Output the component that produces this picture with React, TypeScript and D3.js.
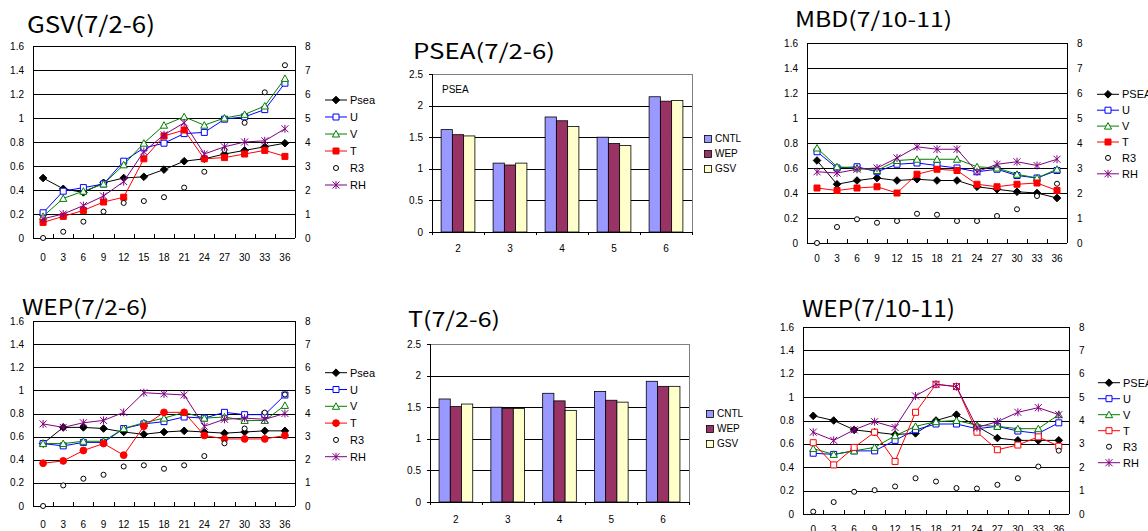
import React, { useEffect, useRef } from "react";
import * as d3 from "d3";

// forecast hours (x axis of the line panels)
const hours = ["0", "3", "6", "9", "12", "15", "18", "21", "24", "27", "30", "33", "36"];
const leftTicks = [0, 0.2, 0.4, 0.6, 0.8, 1, 1.2, 1.4, 1.6];
const rightTicks = [0, 1, 2, 3, 4, 5, 6, 7, 8];

// GSV(7/2-6)
const gsvPsea = [0.5, 0.41, 0.38, 0.46, 0.5, 0.51, 0.57, 0.64, 0.66, 0.7, 0.73, 0.76, 0.79];
const gsvU = [0.21, 0.39, 0.42, 0.45, 0.64, 0.75, 0.79, 0.87, 0.88, 0.99, 1.01, 1.07, 1.29];
const gsvV = [0.18, 0.33, 0.39, 0.45, 0.61, 0.79, 0.94, 1.01, 0.94, 1.0, 1.03, 1.1, 1.33];
const gsvT = [0.13, 0.18, 0.23, 0.3, 0.34, 0.66, 0.85, 0.9, 0.66, 0.67, 0.7, 0.73, 0.68];
const gsvR3 = [0, 0.26, 0.68, 1.1, 1.46, 1.54, 1.7, 2.1, 2.76, 3.67, 4.8, 6.07, 7.2];
const gsvRH = [0.16, 0.2, 0.27, 0.35, 0.47, 0.72, 0.86, 0.96, 0.7, 0.76, 0.8, 0.81, 0.91];

// WEP(7/2-6)
const wepPsea = [0.54, 0.68, 0.68, 0.67, 0.64, 0.62, 0.64, 0.65, 0.64, 0.63, 0.64, 0.65, 0.65];
const wepU = [0.54, 0.52, 0.55, 0.55, 0.67, 0.71, 0.73, 0.77, 0.76, 0.81, 0.79, 0.79, 0.96];
const wepV = [0.54, 0.54, 0.56, 0.56, 0.67, 0.72, 0.76, 0.81, 0.76, 0.77, 0.74, 0.74, 0.87];
const wepT = [0.37, 0.39, 0.48, 0.54, 0.44, 0.69, 0.81, 0.81, 0.61, 0.58, 0.58, 0.58, 0.61];
const wepR3 = [0, 0.89, 1.18, 1.35, 1.71, 1.76, 1.61, 1.76, 2.16, 2.71, 3.35, 4.04, 4.82];
const wepRH = [0.71, 0.68, 0.72, 0.74, 0.81, 0.98, 0.97, 0.96, 0.69, 0.75, 0.76, 0.75, 0.8];

// MBD(7/10-11)
const mbdPsea = [0.66, 0.47, 0.5, 0.52, 0.5, 0.51, 0.5, 0.5, 0.45, 0.43, 0.41, 0.4, 0.36];
const mbdU = [0.73, 0.6, 0.61, 0.57, 0.63, 0.64, 0.62, 0.6, 0.57, 0.59, 0.54, 0.52, 0.58];
const mbdV = [0.76, 0.61, 0.6, 0.58, 0.66, 0.67, 0.67, 0.67, 0.61, 0.6, 0.55, 0.52, 0.59];
const mbdT = [0.44, 0.42, 0.44, 0.45, 0.4, 0.55, 0.59, 0.58, 0.47, 0.45, 0.47, 0.48, 0.42];
const mbdR3 = [0, 0.64, 0.95, 0.81, 0.88, 1.17, 1.13, 0.88, 0.88, 1.08, 1.35, 1.88, 2.37];
const mbdRH = [0.57, 0.56, 0.59, 0.6, 0.68, 0.77, 0.75, 0.75, 0.57, 0.63, 0.65, 0.62, 0.67];

// WEP(7/10-11)
const wep2Psea = [0.84, 0.8, 0.72, 0.7, 0.68, 0.69, 0.8, 0.85, 0.75, 0.65, 0.63, 0.63, 0.63];
const wep2U = [0.52, 0.51, 0.54, 0.54, 0.63, 0.72, 0.77, 0.77, 0.73, 0.75, 0.71, 0.69, 0.78];
const wep2V = [0.56, 0.51, 0.54, 0.57, 0.67, 0.75, 0.79, 0.8, 0.76, 0.75, 0.73, 0.73, 0.85];
const wep2T = [0.61, 0.42, 0.57, 0.7, 0.45, 0.87, 1.11, 1.09, 0.7, 0.55, 0.59, 0.66, 0.58];
const wep2R3 = [0.1, 0.51, 0.95, 1.02, 1.18, 1.53, 1.39, 1.11, 1.09, 1.25, 1.53, 2.03, 2.71];
const wep2RH = [0.7, 0.63, 0.72, 0.79, 0.74, 1.01, 1.11, 1.09, 0.74, 0.79, 0.87, 0.91, 0.85];

// bar panels
const barDays = ["2", "3", "4", "5", "6"];
const barNames = ["CNTL", "WEP", "GSV"];
const barColors = ["#9999FF", "#993366", "#FFFFCC"];
const barTicks = [0, 0.5, 1, 1.5, 2, 2.5];
const pseaCntl = [1.62, 1.09, 1.82, 1.5, 2.14];
const pseaWep = [1.54, 1.06, 1.76, 1.4, 2.07];
const pseaGsv = [1.52, 1.09, 1.67, 1.37, 2.08];
const tCntl = [1.63, 1.5, 1.72, 1.75, 1.91];
const tWep = [1.51, 1.48, 1.6, 1.61, 1.83];
const tGsv = [1.55, 1.48, 1.45, 1.58, 1.83];

const FONT = "'Liberation Sans', Arial, sans-serif";
const TITLE_FONT = "'Noto Sans CJK JP', 'Noto Sans', sans-serif";

const styles = {
  psea: { color: "#000000", marker: "diamond", fill: "#000000" },
  u: { color: "#0000FF", marker: "square", fill: "#ffffff" },
  v: { color: "#008000", marker: "triangle", fill: "#ffffff" },
  t: { color: "#FF0000", marker: "square", fill: "#FF0000" },
  r3: { color: "#000000", marker: "circle", fill: "#ffffff", noLine: true },
  rh: { color: "#800080", marker: "asterisk", fill: "none" },
};

const markerPath = (m) => {
  if (m === "diamond") return "M0,-3.8L3.8,0L0,3.8L-3.8,0Z";
  if (m === "square") return "M-3,-3H3V3H-3Z";
  if (m === "triangle") return "M0,-3.5L3.6,3L-3.6,3Z";
  if (m === "circle") return d3.symbol(d3.symbolCircle, 20)();
  if (m === "bigCircle") return d3.symbol(d3.symbolCircle, 36)();
  return "M-3.5,-3.5L3.5,3.5M-3.5,3.5L3.5,-3.5M0,-4V4";
};

const drawTitle = (svg, t) => {
  svg
    .append("text")
    .attr("x", t.x)
    .attr("y", t.y)
    .attr("textLength", t.len)
    .attr("lengthAdjust", "spacingAndGlyphs")
    .style("font-family", TITLE_FONT)
    .style("font-size", t.size + "px")
    .style("fill", "#000")
    .text(t.text);
};

const drawLinePanel = (svg, p) => {
  const g = svg.append("g");
  const x = d3.scaleBand().domain(hours).range([p.x0, p.x1]);
  const yL = d3.scaleLinear().domain([0, 1.6]).range([p.y1, p.y0]);
  const yR = d3.scaleLinear().domain([0, 8]).range([p.y1, p.y0]);

  g.selectAll(".grid")
    .data(leftTicks.slice(1))
    .enter()
    .append("line")
    .attr("x1", p.x0)
    .attr("x2", p.x1)
    .attr("y1", (d) => Math.round(yL(d)) + 0.5)
    .attr("y2", (d) => Math.round(yL(d)) + 0.5)
    .attr("stroke", "#000")
    .attr("stroke-width", 1);

  // axes lines
  [p.x0, p.x1].forEach((ax) => {
    g.append("line")
      .attr("x1", Math.round(ax) + 0.5)
      .attr("x2", Math.round(ax) + 0.5)
      .attr("y1", p.y0)
      .attr("y2", p.y1)
      .attr("stroke", "#000");
  });
  g.append("line")
    .attr("x1", p.x0)
    .attr("x2", p.x1)
    .attr("y1", Math.round(p.y1) + 0.5)
    .attr("y2", Math.round(p.y1) + 0.5)
    .attr("stroke", "#000");

  // x ticks between categories
  g.selectAll(".xt")
    .data(hours.slice(1))
    .enter()
    .append("line")
    .attr("x1", (d) => Math.round(x(d)) + 0.5)
    .attr("x2", (d) => Math.round(x(d)) + 0.5)
    .attr("y1", p.y1)
    .attr("y2", p.y1 - 4)
    .attr("stroke", "#000");

  g.selectAll(".xl")
    .data(hours)
    .enter()
    .append("text")
    .attr("x", (d) => x(d) + x.bandwidth() / 2)
    .attr("y", p.y1 + p.xLabelDy)
    .attr("text-anchor", "middle")
    .style("font-family", FONT)
    .style("font-size", "10px")
    .text((d) => d);

  g.selectAll(".yl")
    .data(leftTicks)
    .enter()
    .append("text")
    .attr("x", p.x0 - 9)
    .attr("y", (d) => yL(d) + 3.5)
    .attr("text-anchor", "end")
    .style("font-family", FONT)
    .style("font-size", "10px")
    .text((d) => String(d));

  g.selectAll(".yr")
    .data(rightTicks)
    .enter()
    .append("text")
    .attr("x", p.x1 + 10)
    .attr("y", (d) => yR(d) + 3.5)
    .attr("text-anchor", "start")
    .style("font-family", FONT)
    .style("font-size", "10px")
    .text((d) => String(d));

  const line = d3.line();

  p.series.forEach((s) => {
    const st = { ...styles[s.kind] };
    if (s.kind === "t") {
      st.marker = p.tMarker;
      st.fill = p.tFill;
    }
    const y = s.kind === "r3" ? yR : yL;
    const pts = s.values.map((v, i) => [x(hours[i]) + x.bandwidth() / 2, y(v)]);
    if (!st.noLine) {
      g.append("path")
        .attr("d", line(pts))
        .attr("fill", "none")
        .attr("stroke", st.color)
        .attr("stroke-width", 1);
    }
    g.selectAll(".m-" + s.kind)
      .data(pts)
      .enter()
      .append("path")
      .attr("transform", (d) => `translate(${d[0]},${d[1]})`)
      .attr("d", markerPath(st.marker))
      .attr("fill", st.fill)
      .attr("stroke", st.color)
      .attr("stroke-width", 1);
  });

  // legend
  p.series.forEach((s, i) => {
    const st = { ...styles[s.kind] };
    if (s.kind === "t") {
      st.marker = p.tMarker;
      st.fill = p.tFill;
    }
    const ly = p.legendY + i * p.legendGap;
    if (!st.noLine) {
      g.append("line")
        .attr("x1", p.legendX)
        .attr("x2", p.legendX + 22)
        .attr("y1", ly)
        .attr("y2", ly)
        .attr("stroke", st.color);
    }
    g.append("path")
      .attr("transform", `translate(${p.legendX + 11},${ly})`)
      .attr("d", markerPath(st.marker))
      .attr("fill", st.fill)
      .attr("stroke", st.color);
    g.append("text")
      .attr("x", p.legendX + 25)
      .attr("y", ly + 4)
      .style("font-family", FONT)
      .style("font-size", "11px")
      .text(s.name);
  });

  drawTitle(svg, p.title);
};

const drawBarPanel = (svg, p) => {
  const g = svg.append("g");
  const x0 = d3.scaleBand().domain(barDays).range([p.x0, p.x1]).paddingInner(0.35).paddingOuter(0.175);
  const x1 = d3.scaleBand().domain(barNames).range([0, x0.bandwidth()]);
  const y = d3.scaleLinear().domain([0, 2.5]).range([p.y1, p.y0]);

  g.append("rect")
    .attr("x", Math.round(p.x0) + 0.5)
    .attr("y", Math.round(p.y0) + 0.5)
    .attr("width", Math.round(p.x1 - p.x0))
    .attr("height", Math.round(p.y1 - p.y0))
    .attr("fill", "#fff")
    .attr("stroke", "#808080");

  g.selectAll(".grid")
    .data(barTicks.slice(1, -1))
    .enter()
    .append("line")
    .attr("x1", p.x0)
    .attr("x2", p.x1)
    .attr("y1", (d) => Math.round(y(d)) + 0.5)
    .attr("y2", (d) => Math.round(y(d)) + 0.5)
    .attr("stroke", "#000");

  g.selectAll(".yt")
    .data(barTicks)
    .enter()
    .append("line")
    .attr("x1", p.x0 - 3)
    .attr("x2", p.x0)
    .attr("y1", (d) => Math.round(y(d)) + 0.5)
    .attr("y2", (d) => Math.round(y(d)) + 0.5)
    .attr("stroke", "#000");

  g.selectAll(".yl")
    .data(barTicks)
    .enter()
    .append("text")
    .attr("x", p.x0 - 9)
    .attr("y", (d) => y(d) + 3.5)
    .attr("text-anchor", "end")
    .style("font-family", FONT)
    .style("font-size", "10px")
    .text((d) => String(d));

  const rows = barDays.map((d, i) => ({ day: d, vals: p.values.map((v) => v[i]) }));
  const groups = g
    .selectAll(".grp")
    .data(rows)
    .enter()
    .append("g")
    .attr("transform", (d) => `translate(${x0(d.day)},0)`);
  groups
    .selectAll("rect")
    .data((d) => d.vals.map((v, j) => ({ name: barNames[j], v, j })))
    .enter()
    .append("rect")
    .attr("x", (d) => x1(d.name))
    .attr("y", (d) => y(d.v))
    .attr("width", x1.bandwidth())
    .attr("height", (d) => y(0) - y(d.v))
    .attr("fill", (d) => barColors[d.j])
    .attr("stroke", "#000")
    .attr("stroke-width", 0.8);

  // axes
  g.append("line")
    .attr("x1", Math.round(p.x0) + 0.5)
    .attr("x2", Math.round(p.x0) + 0.5)
    .attr("y1", p.y0)
    .attr("y2", p.y1)
    .attr("stroke", "#000");
  g.append("line")
    .attr("x1", p.x0)
    .attr("x2", p.x1)
    .attr("y1", Math.round(p.y1) + 0.5)
    .attr("y2", Math.round(p.y1) + 0.5)
    .attr("stroke", "#000");

  const step = x0.step();
  const bounds = d3.range(barDays.length + 1).map((i) => p.x0 + i * step);
  g.selectAll(".xt")
    .data(bounds)
    .enter()
    .append("line")
    .attr("x1", (d) => Math.round(d) + 0.5)
    .attr("x2", (d) => Math.round(d) + 0.5)
    .attr("y1", p.y1)
    .attr("y2", p.y1 + 3)
    .attr("stroke", "#000");

  g.selectAll(".xl")
    .data(barDays)
    .enter()
    .append("text")
    .attr("x", (d) => x0(d) + x0.bandwidth() / 2)
    .attr("y", p.y1 + p.xLabelDy)
    .attr("text-anchor", "middle")
    .style("font-family", FONT)
    .style("font-size", "10px")
    .text((d) => d);

  if (p.inner) {
    g.append("text")
      .attr("x", p.x0 + 10)
      .attr("y", p.y0 + 19)
      .style("font-family", FONT)
      .style("font-size", "10px")
      .text(p.inner);
  }

  barNames.forEach((n, i) => {
    const ly = p.legendY + i * p.legendGap;
    g.append("rect")
      .attr("x", p.legendX + 0.5)
      .attr("y", Math.round(ly - 3.5) + 0.5)
      .attr("width", 7)
      .attr("height", 7)
      .attr("fill", barColors[i])
      .attr("stroke", "#000")
      .attr("stroke-width", 0.8);
    g.append("text")
      .attr("x", p.legendX + 11)
      .attr("y", ly + 3.5)
      .style("font-family", FONT)
      .style("font-size", "10px")
      .text(n);
  });

  drawTitle(svg, p.title);
};

const App = () => {
  const svgRef = useRef(null);

  useEffect(() => {
    const svg = d3.select(svgRef.current);
    svg.selectAll("*").remove();

    const mk = (names, psea, u, v, t, r3, rh) => [
      { name: names[0], kind: "psea", values: psea },
      { name: "U", kind: "u", values: u },
      { name: "V", kind: "v", values: v },
      { name: "T", kind: "t", values: t },
      { name: "R3", kind: "r3", values: r3 },
      { name: "RH", kind: "rh", values: rh },
    ];

    drawLinePanel(svg, {
      x0: 33, x1: 295, y0: 46, y1: 238, xLabelDy: 23,
      tMarker: "square", tFill: "#FF0000",
      legendX: 325, legendY: 100, legendGap: 17,
      series: mk(["Psea"], gsvPsea, gsvU, gsvV, gsvT, gsvR3, gsvRH),
      title: { text: "GSV(7/2-6)", x: 27, y: 33, len: 128, size: 23 },
    });

    drawLinePanel(svg, {
      x0: 33, x1: 295, y0: 321, y1: 506, xLabelDy: 22,
      tMarker: "bigCircle", tFill: "#FF0000",
      legendX: 325, legendY: 372.7, legendGap: 16.8,
      series: mk(["Psea"], wepPsea, wepU, wepV, wepT, wepR3, wepRH),
      title: { text: "WEP(7/2-6)", x: 22, y: 315, len: 126, size: 21 },
    });

    drawLinePanel(svg, {
      x0: 807, x1: 1067, y0: 43, y1: 243, xLabelDy: 19,
      tMarker: "square", tFill: "#FF0000",
      legendX: 1097, legendY: 94.3, legendGap: 15.9,
      series: mk(["PSEA"], mbdPsea, mbdU, mbdV, mbdT, mbdR3, mbdRH),
      title: { text: "MBD(7/10-11)", x: 795, y: 27, len: 157, size: 21 },
    });

    drawLinePanel(svg, {
      x0: 803, x1: 1069, y0: 327, y1: 514, xLabelDy: 19,
      tMarker: "square", tFill: "#ffffff",
      legendX: 1098, legendY: 382.7, legendGap: 16,
      series: mk(["PSEA"], wep2Psea, wep2U, wep2V, wep2T, wep2R3, wep2RH),
      title: { text: "WEP(7/10-11)", x: 802, y: 317, len: 153, size: 23 },
    });

    drawBarPanel(svg, {
      x0: 432, x1: 692, y0: 74, y1: 232, xLabelDy: 20,
      values: [pseaCntl, pseaWep, pseaGsv],
      inner: "PSEA",
      legendX: 704, legendY: 138.3, legendGap: 15.3,
      title: { text: "PSEA(7/2-6)", x: 413, y: 59, len: 142, size: 21 },
    });

    drawBarPanel(svg, {
      x0: 430, x1: 689, y0: 344, y1: 502, xLabelDy: 21,
      values: [tCntl, tWep, tGsv],
      legendX: 706, legendY: 413.3, legendGap: 15,
      title: { text: "T(7/2-6)", x: 408, y: 327, len: 92, size: 21 },
    });
  }, []);

  return (
    <svg
      ref={svgRef}
      width={1148}
      height={531}
      style={{ position: "absolute", left: 0, top: 0, background: "#fff" }}
    />
  );
};

export default App;
